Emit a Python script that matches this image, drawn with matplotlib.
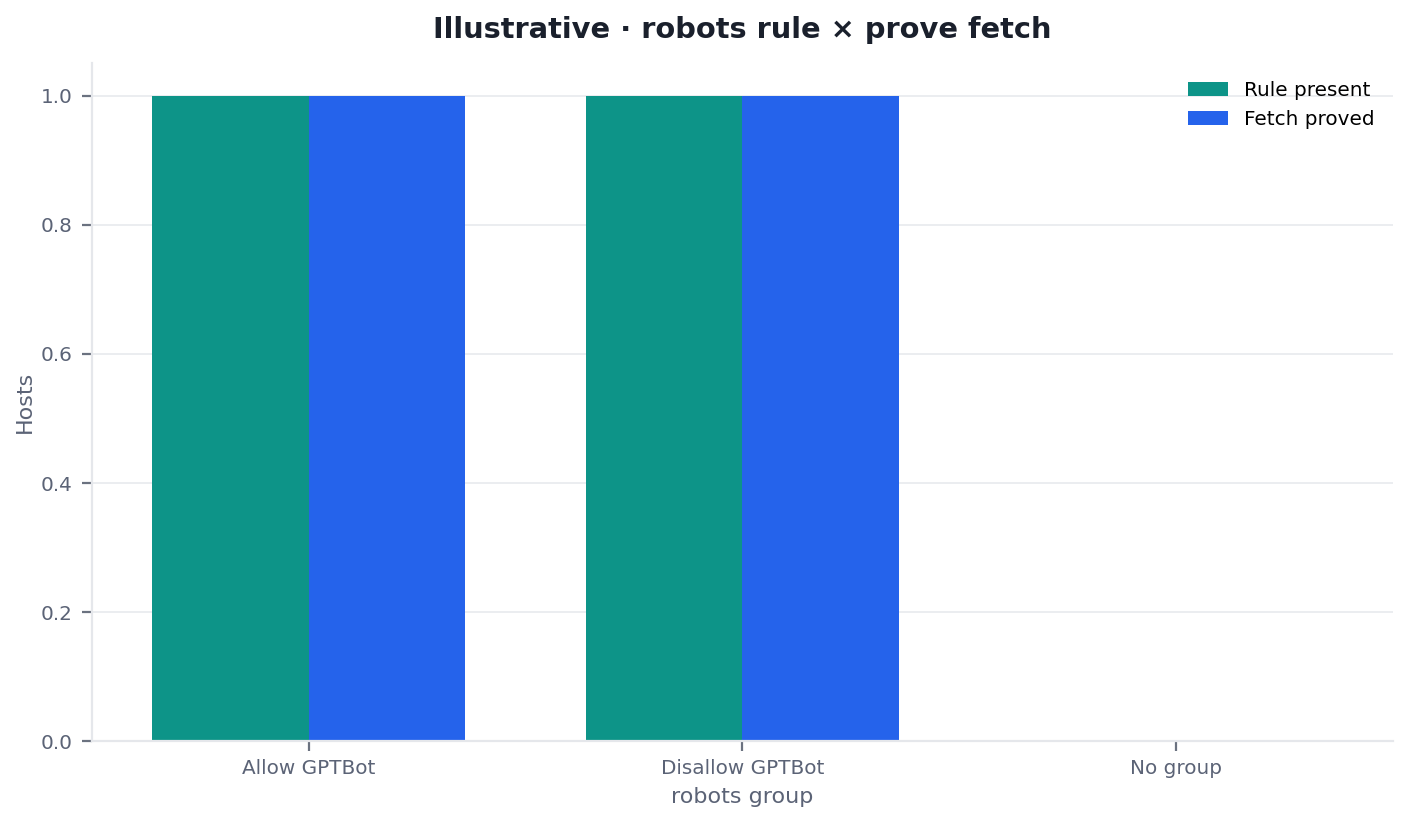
import numpy as np
import matplotlib.pyplot as plt

groups = ["Allow GPTBot", "Disallow GPTBot", "No group"]
rule_present = [1, 1, 0]
fetch_proved = [1, 1, 0]

plt.rcParams['font.family'] = ['DejaVu Sans']

fig, ax = plt.subplots(figsize=(7.05, 4.105), dpi=200)

x = np.arange(len(groups))
w = 0.36
ax.bar(x - w / 2, rule_present, w, color='#0d9488', label='Rule present')
ax.bar(x + w / 2, fetch_proved, w, color='#2563eb', label='Fetch proved')

ax.set_xticks(x)
ax.set_xticklabels(groups)
ax.set_xlim(-0.5, 2.5)
ax.set_ylim(0, 1.05)

ax.set_title('Illustrative · robots rule × prove fetch', fontsize=10.4,
             fontweight='bold', color='#1a202c', pad=9)
ax.set_xlabel('robots group', fontsize=8, color='#5b6376', labelpad=3)
ax.set_ylabel('Hosts', fontsize=8, color='#5b6376', labelpad=2)

for s in ['top', 'right']:
    ax.spines[s].set_visible(False)
for s in ['left', 'bottom']:
    ax.spines[s].set_color('#e5e7eb')
    ax.spines[s].set_linewidth(0.8)

ax.tick_params(axis='both', colors='#6b7280', labelsize=7.2, labelcolor='#5b6376')
ax.tick_params(axis='x', pad=3)
ax.yaxis.grid(True, color='#e8eaee', linewidth=0.6)
ax.set_axisbelow(True)

ax.legend(frameon=False, fontsize=7.2, loc='upper right')

fig.subplots_adjust(left=0.065, right=0.988, top=0.923, bottom=0.097)
fig.savefig('out.png', dpi=200)
